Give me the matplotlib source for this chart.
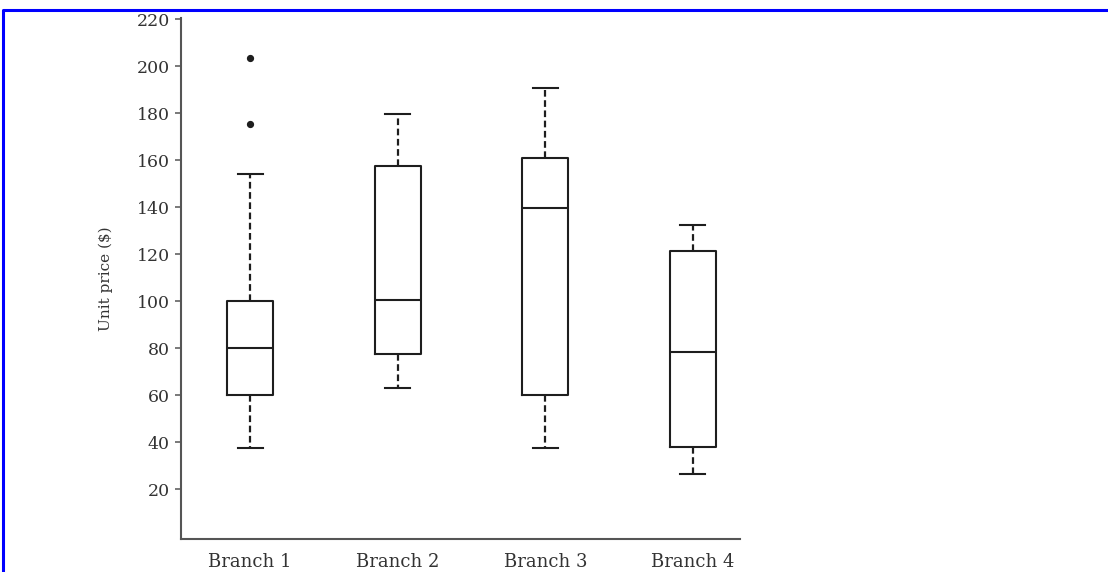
import matplotlib
matplotlib.use('Agg')
import matplotlib.pyplot as plt
from matplotlib.lines import Line2D

# values
branches = ['Branch 1', 'Branch 2', 'Branch 3', 'Branch 4']
whis_lo = [37.5, 63, 37.5, 26.5]
q1 = [60, 77.5, 60, 38]
median = [80, 100.5, 139.5, 78.5]
q3 = [100, 157.5, 161, 121.5]
whis_hi = [154, 179.5, 190.5, 132.5]
outliers = [[175.5, 203.5], [], [], []]
y_ticks = [20, 40, 60, 80, 100, 120, 140, 160, 180, 200, 220]

plt.rcParams['font.family'] = ['DejaVu Serif']

fig = plt.figure(figsize=(11.08, 5.72), dpi=100)
ax = fig.add_axes([0.1631, 0.0572, 0.668 - 0.1631, 0.9685 - 0.0572])

stats = []
for name, lo, a, m, b, hi, fl in zip(branches, whis_lo, q1, median, q3, whis_hi, outliers):
    stats.append(dict(label=name, whislo=lo, q1=a, med=m, q3=b, whishi=hi, fliers=fl))

ink = '#1e1e1e'
ax.bxp(stats, positions=[1, 2, 3, 4], widths=0.31, showfliers=True,
       boxprops=dict(color=ink, linewidth=1.5),
       medianprops=dict(color=ink, linewidth=1.5),
       whiskerprops=dict(color=ink, linewidth=1.6, linestyle=(0, (3, 1.6))),
       capprops=dict(color=ink, linewidth=1.5),
       capwidths=0.17,
       flierprops=dict(marker='o', markersize=4.2, markerfacecolor=ink,
                       markeredgecolor=ink))

ax.set_xlim(0.53, 4.32)
ax.set_ylim(-1.4, 220.5)
ax.set_yticks(y_ticks)
ax.set_ylabel('Unit price ($)', fontsize=11, color='#333333', labelpad=17)

for side in ('top', 'right'):
    ax.spines[side].set_visible(False)
for side in ('left', 'bottom'):
    ax.spines[side].set_color('#555555')
    ax.spines[side].set_linewidth(1.5)

ax.tick_params(axis='y', length=4.5, width=1.1, color='#555555', pad=3.5,
               labelsize=12.5, labelcolor='#333333')
ax.tick_params(axis='x', length=0, pad=10, labelsize=13, labelcolor='#333333')

# blue frame round the picture (no bottom / right edge visible)
x0 = 3 / 1108
y0 = 1 - 10 / 572
fig.add_artist(Line2D([x0, x0, 1.0], [0.0, y0, y0], transform=fig.transFigure,
                      color='#0000ff', linewidth=2.2))

fig.savefig('out.png', dpi=100)
